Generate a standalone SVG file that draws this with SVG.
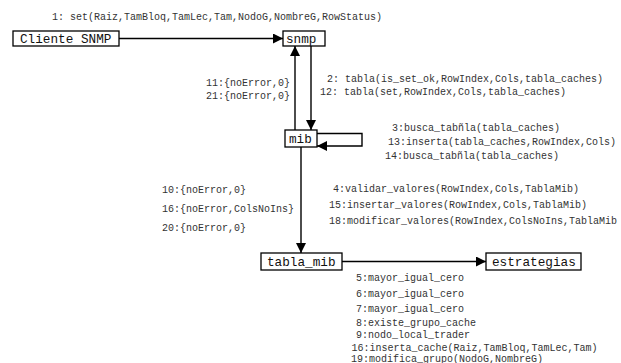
<svg xmlns="http://www.w3.org/2000/svg" width="621" height="363" viewBox="0 0 621 363">
<style>
.box{fill:#fff;stroke:#000;stroke-width:1.3}
.bt{font-family:"Liberation Mono","DejaVu Sans Mono",monospace;font-size:12.7px;fill:#111}
.lb{font-family:"Liberation Mono","DejaVu Sans Mono",monospace;font-size:10px;fill:#333}
.ln{fill:none;stroke:#000;stroke-width:1.4}
</style>
<defs>
<marker id="ah" markerWidth="10" markerHeight="10" refX="10" refY="5" orient="auto" markerUnits="userSpaceOnUse">
<path d="M0,0 L10,5 L0,10 Z" fill="#000"/>
</marker>
</defs>
<rect width="621" height="363" fill="#fff"/>
<g id="connectors">
<line class="ln" x1="119" y1="38.5" x2="283" y2="38.5" marker-end="url(#ah)"/>
<line class="ln" x1="295" y1="130" x2="295" y2="46" marker-end="url(#ah)"/>
<line class="ln" x1="311" y1="46" x2="311" y2="130" marker-end="url(#ah)"/>
<polyline class="ln" points="317,133.5 362,133.5 362,146 317,146" marker-end="url(#ah)"/>
<line class="ln" x1="301" y1="147" x2="301" y2="253" marker-end="url(#ah)"/>
<line class="ln" x1="342" y1="261.5" x2="486" y2="261.5" marker-end="url(#ah)"/>
</g>
<g id="cliente">
<rect class="box" x="13" y="31" width="106" height="15"/>
<text class="bt" x="20" y="42.5">Cliente SNMP</text>
</g>
<g id="snmp">
<rect class="box" x="283" y="31" width="42" height="15"/>
<text class="bt" x="286" y="42.5">snmp</text>
</g>
<g id="mib">
<rect class="box" x="285" y="130" width="32" height="17"/>
<text class="bt" x="289" y="142.5">mib</text>
</g>
<g id="tabla_mib">
<rect class="box" x="261" y="253" width="81" height="17"/>
<text class="bt" x="267" y="265.5">tabla_mib</text>
</g>
<g id="estrategias">
<rect class="box" x="486" y="253" width="95" height="17"/>
<text class="bt" x="492" y="265.5">estrategias</text>
</g>
<g id="labels">
<text class="lb" x="52" y="20">1: set(Raiz,TamBloq,TamLec,Tam,NodoG,NombreG,RowStatus)</text>
<text class="lb" x="327" y="82">2: tabla(is_set_ok,RowIndex,Cols,tabla_caches)</text>
<text class="lb" x="320" y="95">12: tabla(set,RowIndex,Cols,tabla_caches)</text>
<text class="lb" x="206" y="86">11:{noError,0}</text>
<text class="lb" x="206" y="98.5">21:{noError,0}</text>
<text class="lb" x="392" y="131">3:busca_tabñla(tabla_caches)</text>
<text class="lb" x="388" y="144.5">13:inserta(tabla_caches,RowIndex,Cols)</text>
<text class="lb" x="385" y="158.5">14:busca_tabñla(tabla_caches)</text>
<text class="lb" x="162" y="192.5">10:{noError,0}</text>
<text class="lb" x="162" y="212">16:{noError,ColsNoIns}</text>
<text class="lb" x="162" y="230.5">20:{noError,0}</text>
<text class="lb" x="333" y="192">4:validar_valores(RowIndex,Cols,TablaMib)</text>
<text class="lb" x="329" y="208">15:insertar_valores(RowIndex,Cols,TablaMib)</text>
<text class="lb" x="329" y="224">18:modificar_valores(RowIndex,ColsNoIns,TablaMib</text>
<text class="lb" x="356" y="281">5:mayor_igual_cero</text>
<text class="lb" x="356" y="296.5">6:mayor_igual_cero</text>
<text class="lb" x="356" y="311.5">7:mayor_igual_cero</text>
<text class="lb" x="356" y="325.5">8:existe_grupo_cache</text>
<text class="lb" x="356" y="337.5">9:nodo_local_trader</text>
<text class="lb" x="351.5" y="351">16:inserta_cache(Raiz,TamBloq,TamLec,Tam)</text>
<text class="lb" x="351" y="361.5">19:modifica_grupo(NodoG,NombreG)</text>
</g>
</svg>
